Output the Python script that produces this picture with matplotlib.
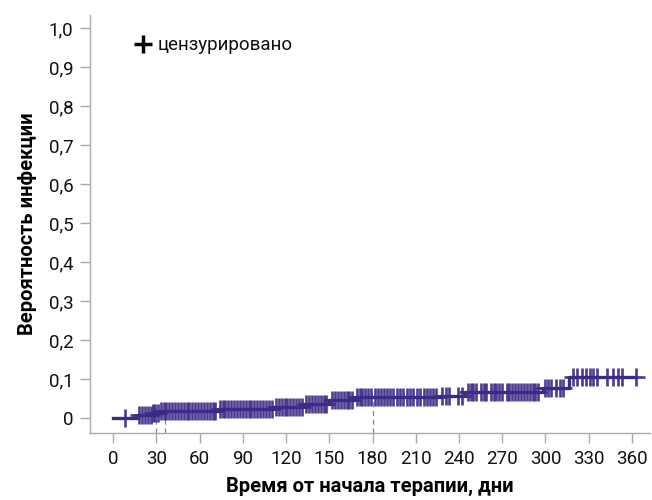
import numpy as np
import matplotlib
matplotlib.use("Agg")
import matplotlib.pyplot as plt

# Kaplan-Meier style cumulative incidence steps
step_days = [0, 17, 27, 33, 73, 111, 132, 150, 168, 227, 244, 298, 316]
step_levels = [0.0, 0.007, 0.013, 0.018, 0.024, 0.029, 0.036, 0.046, 0.053, 0.057, 0.066, 0.078, 0.105]
end_day = 363

# censored observations (days)
censor_days = [8, 18, 20, 22, 24, 26, 28, 29, 31, 33, 35, 37, 39, 41, 43, 45, 47, 49, 51, 53,
               55, 57, 59, 61, 63, 65, 67, 69, 71, 74, 76, 78, 80, 82, 84, 86, 88, 90, 92, 94,
               96, 98, 100, 102, 104, 106, 108, 110, 113, 115, 117, 119, 121, 123, 125, 127,
               129, 131, 134, 136, 138, 140, 142, 144, 146, 148, 152, 154, 156, 158, 160, 162,
               164, 166, 169, 171, 173, 175, 177, 179, 182, 184, 186, 188, 190, 192, 194, 197,
               199, 201, 204, 206, 208, 211, 213, 216, 218, 220, 222, 224, 228, 231, 233, 239,
               242, 246, 248, 250, 252, 255, 257, 259, 262, 264, 266, 268, 270, 273, 275, 277,
               279, 281, 283, 285, 287, 289, 291, 293, 295, 300, 302, 304, 307, 310, 312, 319,
               322, 325, 328, 331, 333, 336, 343, 347, 350, 353, 363]

# reference (dashed) days
ref_days = [30, 36, 180]

x_ticks = list(range(0, 361, 30))
y_ticks = [0, 0.1, 0.2, 0.3, 0.4, 0.5, 0.6, 0.7, 0.8, 0.9, 1.0]
y_labels = ["0", "0,1", "0,2", "0,3", "0,4", "0,5", "0,6", "0,7", "0,8", "0,9", "1,0"]

plt.rcParams['font.family'] = ['Roboto', 'DejaVu Sans']

color = "#3d2a88"
fig = plt.figure(figsize=(6.52, 5.0), dpi=100)
ax = fig.add_axes([90/652, 1-433/500, (650-90)/652, (433-15)/500])

t = np.array(step_days + [end_day], dtype=float)
v = np.array(step_levels + [step_levels[-1]])
ax.step(t, v, where='post', color=color, lw=2.4, zorder=3)

def level_at(d):
    idx = np.searchsorted(np.array(step_days), d, side='right') - 1
    return np.array(step_levels)[idx]

cd = np.array(censor_days, dtype=float)
ax.plot(cd, level_at(cd), linestyle='none', marker='+', markersize=13.5,
        markeredgewidth=1.9, color=color, alpha=0.92, zorder=4)

ylo = -0.0385
for d in ref_days:
    lv = float(level_at(np.array([d]))[0])
    ax.plot([d, d], [ylo, lv], color='#888888', lw=0.9, ls=(0, (4, 3)), zorder=2)

ax.set_xlim(-16, 372.5)
ax.set_ylim(ylo, 1.033)
ax.set_xticks(x_ticks)
ax.set_xticklabels([str(x) for x in x_ticks])
ax.set_yticks(y_ticks)
ax.set_yticklabels(y_labels)

for s in ['top', 'right']:
    ax.spines[s].set_visible(False)
for s in ['left', 'bottom']:
    ax.spines[s].set_color('#aaaaaa')
    ax.spines[s].set_linewidth(1.0)
ax.tick_params(axis='both', direction='out', length=7, width=1.0, color='#aaaaaa',
               labelsize=13.5, labelcolor='#111111', pad=5)

ax.set_xlabel("Время от начала терапии, дни", fontsize=14.5, fontweight='bold', labelpad=7)
ax.set_ylabel("Вероятность инфекции", fontsize=14.5, fontweight='bold', labelpad=8)

# legend
ax.plot([21], [0.958], marker='+', color='black', markersize=13, markeredgewidth=2.5,
        linestyle='none', clip_on=False)
ax.text(31, 0.956, "цензурировано", fontsize=13.5, va='center', ha='left', color='#111111')

fig.savefig("out.png", dpi=100)
